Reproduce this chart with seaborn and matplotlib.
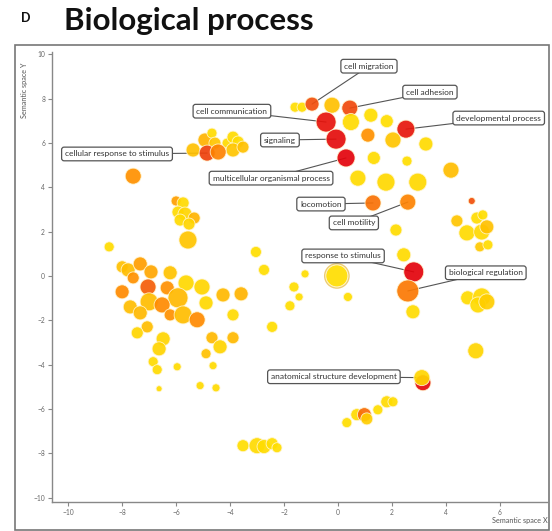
import matplotlib
matplotlib.use("Agg")
import matplotlib.pyplot as plt
from matplotlib.colors import LinearSegmentedColormap
from matplotlib.patches import Rectangle
import seaborn as sns
import pandas as pd

# ---------------- data ----------------
sem_x = [-1.59, -1.33, -0.96, -0.22, 0.44, 1.22, 1.81, -0.44, 0.48, 2.52,
         -0.07, 1.11, 2.04, 3.26, 0.30, 1.33, 2.56, 4.19, 0.74, 1.78,
         2.96, 1.30, 2.59, 2.15,
         4.96, 4.41, 5.15, 5.37, 4.78, 5.33, 5.52, 5.26, 5.56,
         4.81, 5.33, 5.19, 5.52, 5.11,
         2.44, 2.81, 2.59, 2.78, -0.04, 0.37, -1.22, -1.63, -1.44, -1.78,
         -2.44, -3.04, -2.74,
         3.15, 3.11, 0.33, 0.70, 0.98, 1.07, 1.48, 1.81, 2.04,
         -3.52, -3.00, -2.74, -2.44, -2.26,
         -5.37, -4.93, -4.67, -4.56, -4.11, -3.89, -3.70, -3.89, -3.52, -4.85,
         -4.44, -7.59,
         -6.00, -5.74, -5.93, -5.67, -5.33, -5.85, -5.52, -5.56,
         -8.48, -8.00, -7.78, -7.33, -6.93, -6.22, -7.59, -7.04, -6.33, -8.00,
         -5.63, -5.04, -5.93, -7.00, -6.52, -7.70, -7.33, -6.22, -5.74, -5.22,
         -4.89, -4.26, -3.59, -3.89, -7.07, -7.44, -6.48, -6.63, -4.67, -4.37,
         -3.89, -4.89, -6.85, -6.70, -5.96, -4.63, -5.11, -4.52, -6.63]
sem_y = [7.61, 7.61, 7.75, 7.70, 7.57, 7.25, 6.98, 6.94, 6.94, 6.62,
         6.17, 6.35, 6.13, 5.95, 5.32, 5.32, 5.18, 4.77, 4.41, 4.23,
         4.23, 3.29, 3.33, 2.07,
         3.38, 2.48, 2.61, 2.75, 1.94, 1.98, 2.21, 1.31, 1.40,
         -0.99, -0.95, -1.31, -1.17, -3.38,
         0.95, 0.18, -0.68, -1.62, 0.00, -0.95, 0.09, -0.50, -0.95, -1.35,
         -2.30, 1.08, 0.27,
         -4.82, -4.59, -6.62, -6.26, -6.26, -6.45, -6.04, -5.68, -5.68,
         -7.66, -7.66, -7.70, -7.57, -7.75,
         5.68, 6.13, 6.44, 5.99, 5.99, 6.26, 6.04, 5.68, 5.81, 5.54,
         5.59, 4.50,
         3.38, 3.29, 2.88, 2.79, 2.61, 2.52, 2.34, 1.62,
         1.31, 0.41, 0.27, 0.54, 0.18, 0.14, -0.09, -0.50, -0.54, -0.72,
         -0.32, -0.50, -0.99, -1.17, -1.31, -1.40, -1.67, -1.76, -1.76, -1.98,
         -1.22, -0.86, -0.81, -1.76, -2.30, -2.57, -2.84, -3.29, -2.79, -3.20,
         -2.79, -3.51, -3.87, -4.23, -4.10, -4.05, -4.95, -5.05, -5.09]
# bubble size (log size of GO term)
log_size = [5, 5, 7, 8, 8, 7, 6.5, 10, 8.5, 9,
            10, 7, 8, 7, 9, 6.5, 5, 8, 8, 9,
            9, 8, 8, 6,
            3.5, 6, 6, 5, 8, 8, 7, 5, 5,
            7, 9, 8, 8, 8,
            7, 10, 11, 7, 11, 4.5, 4, 5, 4, 5,
            5.5, 5.5, 5.5,
            8, 8, 5, 6, 7, 6, 5, 6, 5,
            6, 8, 7, 6, 5,
            7, 7, 5, 6, 5, 6, 6, 7, 6, 8,
            8, 8,
            5, 6, 6, 7, 6, 6, 6, 9,
            5, 6, 7, 7, 7, 7, 6, 8, 7, 7,
            8, 8, 10, 9, 8, 7, 7, 6, 9, 8,
            7, 7, 7, 6, 6, 6, 7, 7, 6, 7,
            6, 5, 5, 5, 4, 4, 4, 4, 3]
# log10 p-value (colour)
log10_p = [-1.8, -1.8, -6.3, -3.2, -6.4, -1.8, -1.8, -7.6, -2.0, -7.5,
           -7.7, -4.6, -3.0, -2.0, -7.9, -1.9, -1.8, -3.3, -2.0, -2.1,
           -2.1, -5.4, -5.0, -1.9,
           -6.3, -3.0, -1.9, -1.8, -2.0, -2.1, -3.2, -2.8, -1.9,
           -1.9, -2.1, -2.0, -2.6, -2.2,
           -2.0, -7.9, -5.2, -1.9, -1.8, -1.8, -1.8, -1.8, -1.8, -1.8,
           -1.8, -1.8, -1.8,
           -7.8, -2.2, -1.8, -2.0, -5.6, -2.6, -1.8, -2.0, -1.9,
           -1.8, -2.0, -1.9, -1.8, -1.8,
           -3.2, -3.6, -1.9, -3.0, -2.0, -1.9, -1.9, -3.0, -3.2, -6.6,
           -5.0, -4.6,
           -4.2, -2.0, -2.0, -2.2, -3.6, -2.0, -2.2, -3.0,
           -1.9, -3.2, -3.3, -4.2, -4.0, -3.1, -4.6, -5.9, -4.6, -4.8,
           -2.1, -2.2, -3.4, -3.3, -4.8, -3.3, -3.4, -4.6, -3.3, -4.8,
           -2.1, -3.4, -3.6, -2.0, -3.3, -2.2, -2.2, -2.3, -3.4, -2.3,
           -3.4, -3.2, -2.0, -2.0, -2.0, -2.0, -2.0, -2.0, -2.0]
terms = [""] * len(sem_x)
label_names = {2: "cell migration", 4: "cell adhesion", 7: "cell communication",
               9: "developmental process", 10: "signaling",
               14: "multicellular organismal process", 21: "locomotion",
               22: "cell motility", 39: "response to stimulus",
               40: "biological regulation", 52: "anatomical structure development",
               74: "cellular response to stimulus"}
for i, n in label_names.items():
    terms[i] = n
# label box centres (semantic space)
label_pos = {"cell migration": (1.15, 9.46), "cell adhesion": (3.41, 8.29),
             "cell communication": (-3.93, 7.43), "developmental process": (5.96, 7.12),
             "signaling": (-2.15, 6.13), "cellular response to stimulus": (-8.19, 5.50),
             "multicellular organismal process": (-2.48, 4.41), "locomotion": (-0.63, 3.24),
             "cell motility": (0.59, 2.39), "response to stimulus": (0.19, 0.90),
             "biological regulation": (5.48, 0.14),
             "anatomical structure development": (-0.15, -4.55)}
x_ticks = [-10, -8, -6, -4, -2, 0, 2, 4, 6]
y_ticks = [-10, -8, -6, -4, -2, 0, 2, 4, 6, 8, 10]

df = pd.DataFrame({"x": sem_x, "y": sem_y, "log_size": log_size,
                   "log10_p": log10_p, "term": terms})
df["area"] = df["log_size"] ** 2

# ---------------- drawing ----------------
sns.set_style("white")
plt.rcParams["font.family"] = ["Lato", "DejaVu Sans"]

W, H = 552, 531
fig = plt.figure(figsize=(W / 100, H / 100), dpi=100)
ax = fig.add_axes([52 / W, 1 - 502 / H, 495 / W, 450 / H])

cmap = LinearSegmentedColormap.from_list(
    "revigo", ["#E2000C", "#F04A0C", "#FF8A00", "#FFC000", "#FFE200"])
k = 2.07
amin, amax = df["area"].min(), df["area"].max()
sns.scatterplot(data=df, x="x", y="y", hue="log10_p", palette=cmap,
                hue_norm=(-8, -1.6), size="area", sizes=(k * amin, k * amax),
                size_norm=(amin, amax), alpha=0.92, edgecolor="#FFF6D0",
                linewidth=0.6, legend=False, ax=ax, zorder=2)

# halo ring around the large yellow term near the origin
big = df.loc[42]
ax.scatter([big.x], [big.y], s=k * (big.log_size + 1.2) ** 2, facecolor="none",
           edgecolor="#E8C050", linewidth=1.0, alpha=0.8, zorder=2.5)

for i, name in label_names.items():
    bx, by = label_pos[name]
    ax.plot([bx, df.x[i]], [by, df.y[i]], color="#555555", lw=0.8, zorder=1)
    ax.text(bx, by, name, fontsize=6.0, color="#333333", ha="center", va="center",
            zorder=4,
            bbox=dict(boxstyle="round,pad=0.4,rounding_size=0.3", fc="white",
                      ec="#555555", lw=0.9))

ax.set_xlim(-10.6, 7.75)
ax.set_ylim(-10.2, 10.1)
ax.set_xticks(x_ticks)
ax.set_yticks(y_ticks)
ax.set_xlabel("")
ax.set_ylabel("")
for s in ["top", "right"]:
    ax.spines[s].set_visible(False)
for s in ["left", "bottom"]:
    ax.spines[s].set_color("#888888")
    ax.spines[s].set_linewidth(1.0)
ax.tick_params(direction="out", length=3, width=0.8, color="#888888",
               labelsize=4.8, labelcolor="#666666", pad=2)
ax.tick_params(axis="x", bottom=True)
ax.tick_params(axis="y", left=True)

fig.text(25 / W, 1 - 62 / H, "Semantic space Y", rotation=90, ha="center", va="top",
         fontsize=5.2, color="#555555")
fig.text(548 / W, 1 - 520 / H, "Semantic space X", ha="right", va="center",
         fontsize=5.2, color="#555555")
fig.text(64 / W, 1 - 21 / H, "Biological process", fontsize=22.5, weight="bold",
         va="center", ha="left", color="#111111")
fig.text(21 / W, 1 - 18 / H, "D", fontsize=9, weight="bold", va="center",
         ha="left", color="#111111")
fig.patches.append(Rectangle((15 / W, 1 - 530 / H), 534 / W, 485 / H,
                             transform=fig.transFigure, fill=False,
                             edgecolor="#777777", lw=1.2))

fig.savefig("out.png", dpi=100)
